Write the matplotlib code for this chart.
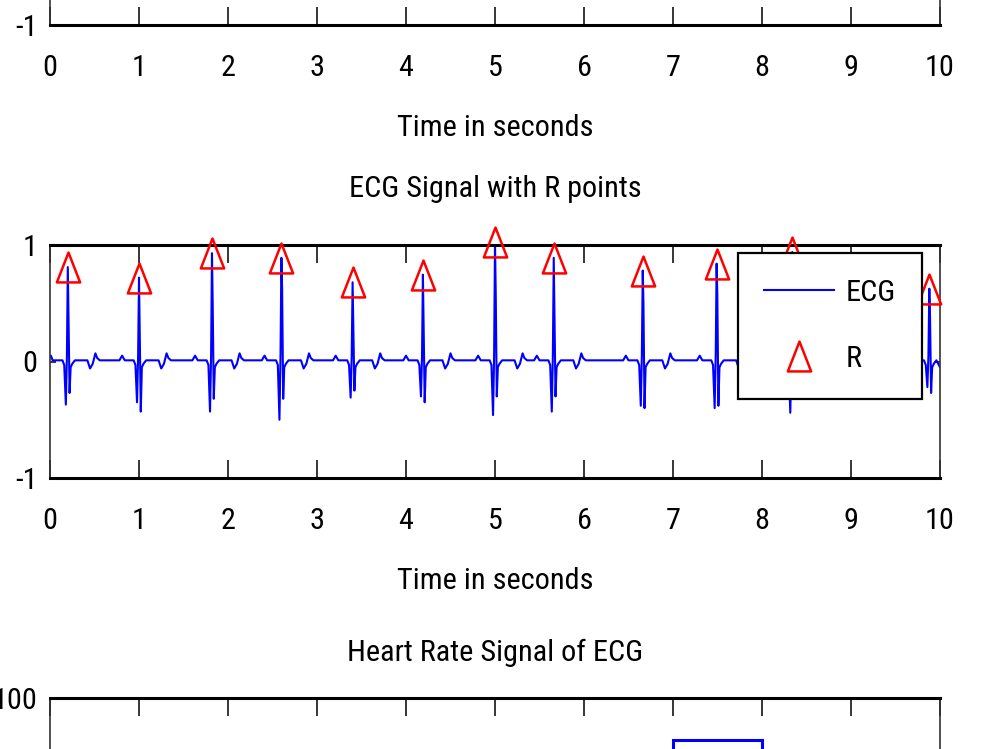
import numpy as np
import matplotlib
matplotlib.use("Agg")
import matplotlib.pyplot as plt
from matplotlib import font_manager as fm
from matplotlib.textpath import TextPath
from matplotlib.path import Path

# ---------------- data ----------------
x_ticks = [0, 1, 2, 3, 4, 5, 6, 7, 8, 9, 10]
ecg_yticks = [-1, 0, 1]
hr_yticks = [0, 50, 100]

# R peaks: time (s) and amplitude
r_time = [0.20, 1.00, 1.82, 2.60, 3.40, 4.19, 5.00, 5.66, 6.66, 7.49, 8.34, 9.88]
r_amp = [0.81, 0.72, 0.93, 0.89, 0.68, 0.745, 1.03, 0.89, 0.78, 0.84, 0.94, 0.625]
# Q and S dips, and the sample right after R (0 = none)
q_val = [-0.37, -0.35, -0.43, -0.50, -0.31, -0.30, -0.46, -0.43, -0.38, -0.40, -0.44, -0.22]
s_val = [-0.27, -0.43, -0.32, -0.32, -0.25, -0.35, -0.30, -0.30, -0.40, -0.38, -0.30, -0.27]
shoulder = [0.0, 0.0, 0.50, 0.63, 0.0, 0.0, 0.60, 0.0, 0.50, 0.57, 0.0, 0.38]

# small P / T wiggles around every beat (offset from R in s, value)
pre_off = [-0.22, -0.19, -0.16, -0.06, -0.04]
pre_val = [0.01, 0.05, 0.01, 0.01, -0.03]
post_off = [0.05, 0.08, 0.22, 0.25, 0.28, 0.31, 0.33, 0.36]
post_val = [-0.02, 0.01, 0.01, -0.06, -0.02, 0.07, 0.03, 0.01]
qrs_off = [-0.022, -0.01, 0.0, 0.008, 0.02, 0.032]

ecg_start = [(0.0, 0.04), (0.03, 0.01)]
ecg_end = [(10.0, -0.05)]

# heart rate per second (stairs)
hr_edges = [0, 1, 2, 3, 4, 5, 6, 7, 8, 9, 10]
hr_values = [75, 74, 76, 75, 76, 74, 70, 82, 71, 60]

# ---------------- build the ECG sample list ----------------
pts = list(ecg_start)
for tr, ra, q, s, sh in zip(r_time, r_amp, q_val, s_val, shoulder):
    for o, v in zip(pre_off, pre_val):
        pts.append((tr + o, v))
    qrs_vals = [q, 0.05, ra, sh, s, -0.05]
    for o, v in zip(qrs_off, qrs_vals):
        if o == 0.008 and v == 0.0:
            continue
        pts.append((tr + o, v))
    for o, v in zip(post_off, post_val):
        pts.append((tr + o, v))
pts += ecg_end
pts = [p for p in pts if -0.5 <= p[0] <= 10.5]
pts.sort(key=lambda p: p[0])
ecg_t = np.array([p[0] for p in pts])
ecg_v = np.array([p[1] for p in pts])

# ---------------- font: a narrow sans like the stretched MATLAB text ----------------
entries = fm.fontManager.ttflist


def find_font():
    names = {f.name for f in entries}
    for n in ["Liberation Sans Narrow", "Roboto Condensed", "Open Sans Condensed"]:
        if n in names:
            return n, "normal"
    for n in ["DejaVu Sans", "Noto Sans", "Roboto", "Open Sans"]:
        for f in entries:
            if f.name == n and "condensed" in str(f.stretch):
                return n, "condensed"
    return "Liberation Sans", "normal"


fam, stretch = find_font()
fp = fm.FontProperties(family=fam, stretch=stretch)
w100 = TextPath((0, 0), "Time in seconds", size=100, prop=fp).get_extents().width
FS = 193 * 72 / w100

plt.rcParams["font.family"] = [fam, "DejaVu Sans"]
plt.rcParams["font.stretch"] = stretch
plt.rcParams["font.size"] = FS
plt.rcParams["axes.unicode_minus"] = False

# ---------------- figure ----------------
W, H = 1000, 749
fig = plt.figure(figsize=(W / 100, H / 100), dpi=100)
fig.patch.set_facecolor("white")

AX_L, AX_W, AX_H = 50, 890, 233


def add_ax(top_px):
    return fig.add_axes([AX_L / W, 1 - (top_px + AX_H) / H, AX_W / W, AX_H / H])


ax1 = add_ax(25 - AX_H)
ax2 = add_ax(245)
ax3 = add_ax(698)


def style(ax, ylim, yticks):
    ax.set_xlim(0, 10)
    ax.set_ylim(*ylim)
    ax.set_xticks(x_ticks)
    ax.set_yticks(yticks)
    ax.tick_params(axis="x", direction="in", length=13, width=1.1, top=True,
                   bottom=True, pad=21, labelsize=FS, colors="black")
    ax.tick_params(axis="y", direction="in", length=4.5, width=1.1, left=True,
                   right=True, pad=9, labelsize=FS, colors="black")
    for side in ["top", "bottom"]:
        ax.spines[side].set_linewidth(2.2)
        ax.spines[side].set_color("black")
    for side in ["left", "right"]:
        ax.spines[side].set_linewidth(1.2)
        ax.spines[side].set_color("#333333")


style(ax1, (-1, 1), ecg_yticks)
style(ax2, (-1, 1), ecg_yticks)
style(ax3, (0, 100), hr_yticks)

# top axes (mostly off the canvas)
ax1.set_xlabel("Time in seconds", fontsize=FS, va="center")
ax1.xaxis.set_label_coords(0.5, -0.442)

# middle axes: ECG with R points
ecg_line, = ax2.plot(ecg_t, ecg_v, color="#0000ff", lw=1.5, zorder=2)
tri = Path([(0, 1), (-0.78, -1), (0.78, -1), (0, 1)],
           [Path.MOVETO, Path.LINETO, Path.LINETO, Path.CLOSEPOLY])
r_marks, = ax2.plot(r_time, r_amp, linestyle="none", marker=tri, markersize=21.5,
                    markerfacecolor="none", markeredgecolor="#ff0000",
                    markeredgewidth=1.8, clip_on=False, zorder=3)
ax2.set_title("ECG Signal with R points", fontsize=FS, y=1.240, pad=0, va="center")
ax2.set_xlabel("Time in seconds", fontsize=FS, va="center")
ax2.xaxis.set_label_coords(0.5, -0.444)
leg = ax2.legend([ecg_line, r_marks], ["ECG", "R"], loc="upper right",
                 bbox_to_anchor=((922 - AX_L) / AX_W, 1 - (253 - 245) / AX_H),
                 borderaxespad=0, fancybox=False, framealpha=1, edgecolor="black",
                 handlelength=2.3, handletextpad=0.4, labelspacing=1.25,
                 borderpad=0.86, numpoints=1, fontsize=FS)
leg.get_frame().set_linewidth(1.6)
leg.set_zorder(5)

# bottom axes: heart rate (mostly off the canvas)
ax3.stairs(hr_values, hr_edges, color="#0000ff", lw=2.2, baseline=None)
ax3.set_title("Heart Rate Signal of ECG", fontsize=FS, y=1.193, pad=0, va="center")

fig.savefig("out.png", dpi=100, facecolor="white")
